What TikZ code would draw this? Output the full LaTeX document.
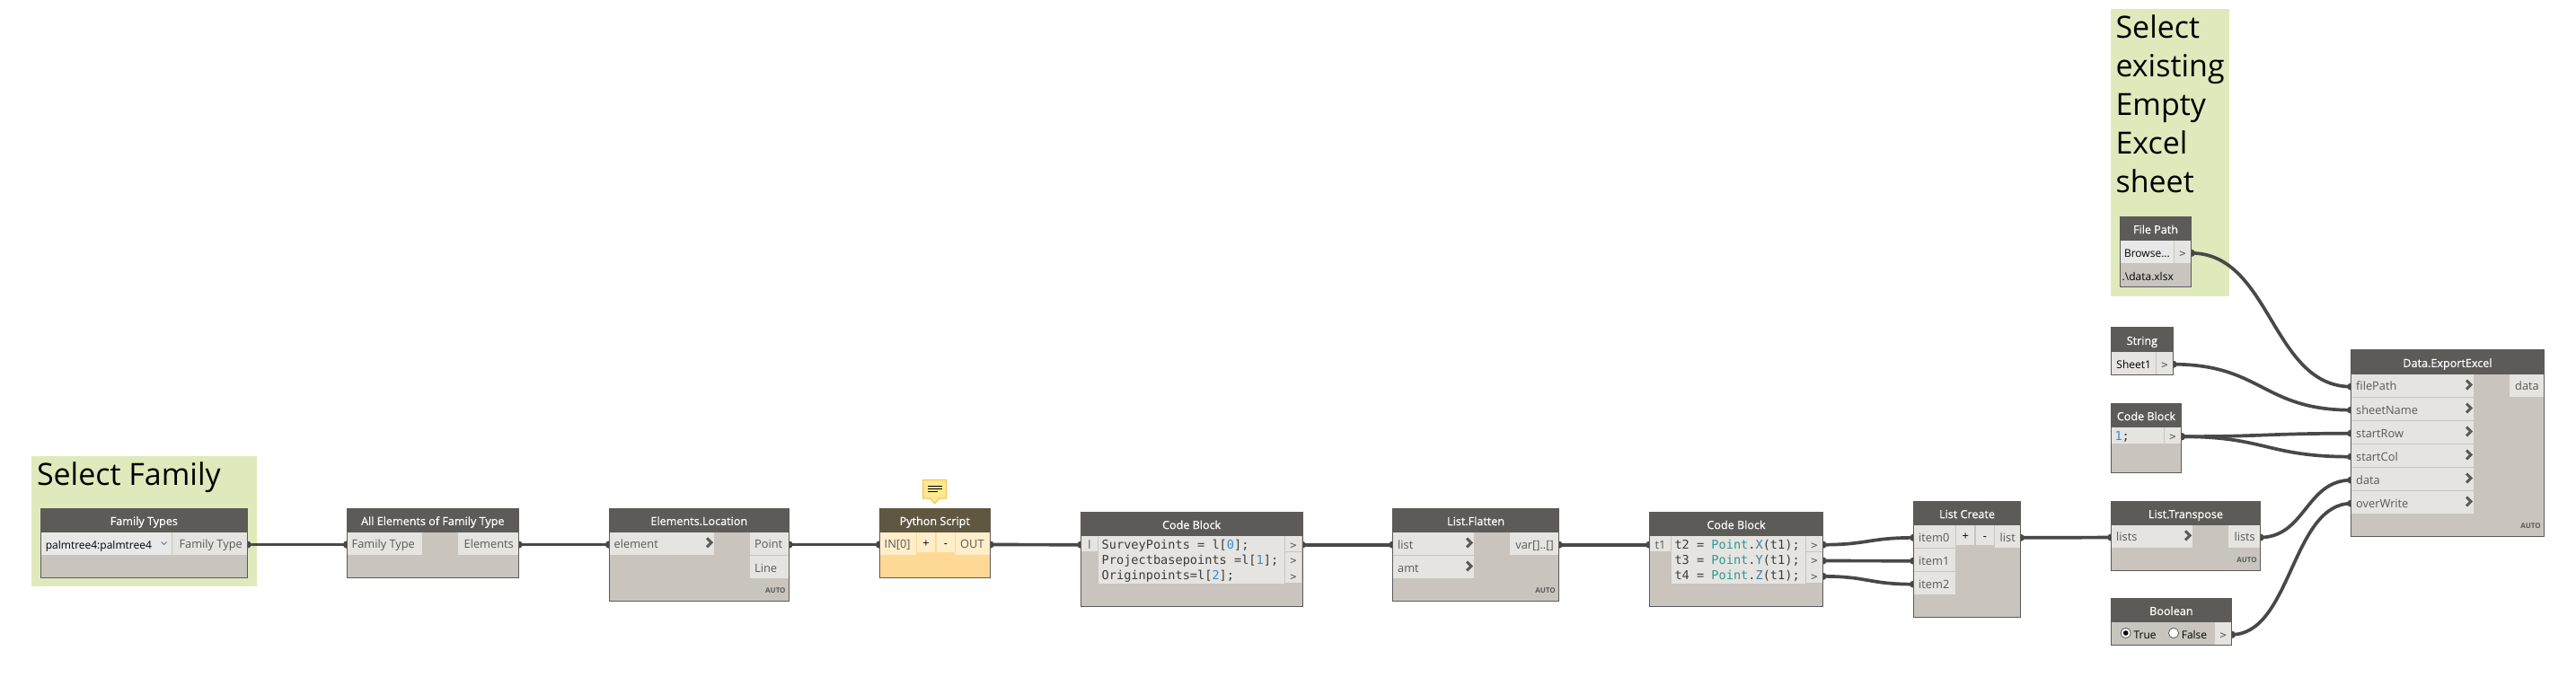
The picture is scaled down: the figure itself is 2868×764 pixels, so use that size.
\documentclass[tikz,border=0pt]{standalone}
\usepackage{fontspec}
\setmainfont{Open Sans}
\newfontfamily\hdfont[FakeBold=0.5]{Open Sans}
\setmonofont{DejaVu Sans Mono}
\usetikzlibrary{calc}
\pgfdeclarelayer{back}
\pgfdeclarelayer{wires}
\pgfsetlayers{back,wires,main}
\definecolor{grp}{HTML}{E0E9BC}
\definecolor{bodyc}{HTML}{C9C5BE}
\definecolor{headc}{HTML}{5D5B58}
\definecolor{portc}{HTML}{E5E4E0}
\definecolor{edgec}{HTML}{5A5A5A}
\definecolor{wirec}{HTML}{484848}
\definecolor{labc}{HTML}{585858}
\definecolor{pyhead}{HTML}{5F5741}
\definecolor{pybody}{HTML}{FDD995}
\definecolor{pyport}{HTML}{FFEEC9}
\definecolor{notef}{HTML}{FFE88F}
\definecolor{notee}{HTML}{F5C04F}
\definecolor{numc}{HTML}{2E8BDD}
\definecolor{clsc}{HTML}{2A9A90}
\definecolor{memc}{HTML}{3F7FA8}
\definecolor{codec}{HTML}{3C3C3C}
\def\bxal{c}
\tikzset{
  al/.store in=\bxal,
  bx/.style={rectangle,inner ysep=0pt,inner xsep=2.6pt,outer sep=0pt,text height=5.5pt,text depth=0pt,font=\fontsize{6.4}{8}\selectfont},
  dbody/.style={bx,fill=bodyc,draw=edgec,line width=.5pt},
  dhead/.style={bx,fill=headc,text=white,font=\hdfont\fontsize{6.3}{8}\selectfont},
  dport/.style={bx,fill=portc,text=labc},
  pyb/.style={dbody,fill=pybody},
  pyh/.style={dhead,fill=pyhead},
  pyp/.style={dport,fill=pyport},
  pybtn/.style={dport,fill=pyport,text=black},
  outp/.style={dport,font=\ttfamily\fontsize{6}{8}\selectfont},
  valp/.style={dport,text=black,font=\fontsize{6}{8}\selectfont},
  codebox/.style={dport},
  codeln/.style={inner sep=0pt,outer sep=0pt,anchor=base west,text=codec,font=\ttfamily\fontsize{6.8}{8}\selectfont},
  grpbox/.style={fill=grp},
  title/.style={inner sep=0pt,outer sep=0pt,text=black,font=\fontsize{17}{21.5}\selectfont},
  autotag/.style={inner sep=0pt,outer sep=0pt,anchor=east,text=labc,font=\bfseries\fontsize{4}{5}\selectfont},
  wire/.style={draw=wirec,line width=1.85pt},
  chev/.style={draw=edgec,line width=1.5pt},
}
\newcommand\bx[7][]{%
  \pgfmathsetmacro\bxw{(#5-#3)*0.5}%
  \pgfmathsetmacro\bxh{(#6-#4)*0.5}%
  \pgfmathsetmacro\bxt{max(\bxw-5.2,0.1)}%
  \node[#1,minimum width=\bxw pt,minimum height=\bxh pt] (#2) at ({(#3+#5)/2},{(#4+#6)/2}) {\makebox[\bxt pt][\bxal]{#7}};}
\newcommand\dn[8][]{% name x1 y1 x2 y2 hdrbottom title
  \bx[dbody,#1]{#2}{#3}{#4}{#5}{#6}{}%
  \bx[dhead,#1]{#2-h}{#3}{#4}{#5}{#7}{#8}}
\newcommand\chv[1]{\draw[chev] ([shift={(-8,-6)}]#1.east) -- ([shift={(-3,-1)}]#1.east) -- ([shift={(-8,4)}]#1.east);}
\newcommand\autotagat[1]{\node[autotag] (#1-auto) at ([shift={(-4,-11.3)}]#1.south east) {AUTO};}
\newcommand\wire[2]{%
  \begin{pgfonlayer}{wires}
  \fill[wirec] ([shift={(.5,1.2)}]#1.east) circle[radius=2.1pt];
  \fill[wirec] ([shift={(-.5,1.2)}]#2.west) circle[radius=2.1pt];
  \draw[wire] let \p1=([yshift=-.6pt]#1.east),\p2=([yshift=-.6pt]#2.west),\n1={(\x2-\x1)*0.5} in
     (\p1) .. controls ({\x1+\n1},\y1) and ({\x2-\n1},\y2) .. (\p2);
  \end{pgfonlayer}}
\begin{document}
\begin{tikzpicture}[x=0.5pt,y=-0.5pt]
\useasboundingbox (0,0) rectangle (2868,764);
\begin{pgfonlayer}{back}
  \fill[white] (0,0) rectangle (2868,764);
  \fill[grpbox] (35,508.3) rectangle (286,653.3);
  \fill[grpbox] (2350,10) rectangle (2482,330);
\end{pgfonlayer}
% group titles
\node[title,anchor=base west] (t1) at (41,540) {Select Family};
\node[title,anchor=north west,align=left] (t2) at (2355.5,16.5) {Select\\existing\\Empty\\Excel\\sheet};
% Family Types
\dn{ft}{45}{566}{275.6}{643.3}{592.7}{Family Types}
\bx[valp,fill=gray!18,al=l]{ftv}{45.6}{592.7}{191}{618.3}{palmtree4:palmtree4}
\bx[dport,al=r]{ftp}{191.6}{592.7}{275}{618}{Family Type}
\draw[labc,line width=.35pt] (179.5,603.5) -- (182.6,606.5) -- (185.7,603.5);
% All Elements
\dn{ae}{386}{566}{577.6}{643.3}{592.7}{All Elements of Family Type}
\bx[dport,al=l]{aei}{386.5}{592.7}{470}{618}{Family Type}
\bx[dport,al=r]{aeo}{510}{592.7}{577}{618}{Elements}
% Elements.Location
\dn{el}{678}{566}{878.6}{669.3}{592.7}{Elements.Location}
\bx[dport,al=l]{eli}{678.5}{592.7}{795}{618}{element}
\chv{eli}
\bx[dport,al=l]{elo}{835}{592.7}{878}{618}{Point}
\bx[dport,al=l]{ell}{835}{619}{878}{644}{Line}
\autotagat{el}
% Python
\dn[pyb]{py}{979}{566}{1102.5}{643.3}{592.7}{}
\bx[pyh]{py-h}{979}{566}{1102.5}{592.7}{Python Script}
\bx[pyp,al=l]{pyi}{979.5}{592.7}{1020}{618}{IN[0]}
\bx[pybtn]{pyplus}{1021}{592.7}{1041}{615}{+}
\bx[pybtn]{pyminus}{1043}{592.7}{1063}{615}{-}
\bx[pyp,al=l]{pyo}{1064}{592.7}{1102}{618}{OUT}
\draw[fill=notef,draw=notee,line width=.5pt] (1027.5,534.3) -- (1053.6,534.3) -- (1053.6,555) -- (1046,555) -- (1040.7,560.7) -- (1035.4,555) -- (1027.5,555) -- cycle;
\draw[black,line width=.4pt] (1033,541) -- (1049,541) (1033,544) -- (1049,544) (1033,547.7) -- (1044,547.7);
% Code Block 1
\dn{ca}{1203.3}{570.3}{1450}{675.3}{597}{Code Block}
\bx[dport]{cai}{1204}{597}{1222}{614}{l}
\bx[codebox]{cab}{1223}{597}{1430}{650}{}
\bx[outp]{cao1}{1431}{597}{1449}{614}{>}
\bx[outp]{cao2}{1431}{615}{1449}{631.7}{>}
\bx[outp]{cao3}{1431}{632.3}{1449}{649}{>}
\node[codeln] (cal1) at (1226.7,611) {SurveyPoints = l[\textcolor{numc}{0}];};
\node[codeln] (cal2) at (1226.7,628.3) {Projectbasepoints =l[\textcolor{numc}{1}];};
\node[codeln] (cal3) at (1226.7,645.3) {Originpoints=l[\textcolor{numc}{2}];};
% List.Flatten
\dn{lf}{1550.5}{566}{1735.7}{669.3}{593}{List.Flatten}
\bx[dport,al=l]{lfi}{1551}{593}{1641}{618}{list}
\bx[dport,al=l]{lfa}{1551}{619}{1641}{644}{amt}
\chv{lfi}\chv{lfa}
\bx[dport,al=r]{lfo}{1681}{593}{1735}{618}{var[]..[]}
\autotagat{lf}
% Code Block 2
\dn{cb}{1836.3}{570.3}{2029.7}{675.3}{597}{Code Block}
\bx[dport]{cbi}{1837}{597}{1860}{614}{t1}
\bx[codebox]{cbb}{1860.7}{597}{2010}{650}{}
\bx[outp]{cbo1}{2011}{597}{2029}{614}{>}
\bx[outp]{cbo2}{2011}{615}{2029}{631.7}{>}
\bx[outp]{cbo3}{2011}{632.3}{2029}{649}{>}
\node[codeln] (cbl1) at (1864.5,611) {t2 = \textcolor{clsc}{Point}.\textcolor{memc}{X}(t1);};
\node[codeln] (cbl2) at (1864.5,628.3) {t3 = \textcolor{clsc}{Point}.\textcolor{memc}{Y}(t1);};
\node[codeln] (cbl3) at (1864.5,645.3) {t4 = \textcolor{clsc}{Point}.\textcolor{memc}{Z}(t1);};
% List Create
\dn{lc}{2130.3}{558.3}{2249.7}{687.3}{585}{List Create}
\bx[dport,al=l]{lci0}{2131}{585}{2177}{610.3}{item0}
\bx[dport,al=l]{lci1}{2131}{611}{2177}{636}{item1}
\bx[dport,al=l]{lci2}{2131}{637}{2177}{662}{item2}
\bx[dport,text=black]{lcplus}{2178.3}{585}{2198.3}{607}{+}
\bx[dport,text=black]{lcminus}{2200}{585}{2220}{607}{-}
\bx[dport,al=r]{lco}{2221}{585}{2249}{610.3}{list}
% List.Transpose
\dn{lt}{2350.2}{558.3}{2516.7}{635}{585}{List.Transpose}
\bx[dport,al=l]{lti}{2351}{585}{2441}{609.7}{lists}
\chv{lti}
\bx[dport,al=r]{lto}{2481}{585}{2516}{609.7}{lists}
\autotagat{lt}
% File Path
\dn{fp}{2360.3}{241.3}{2439.7}{319.3}{268}{File Path}
\bx[valp,fill=gray!18]{fpb}{2360.8}{268}{2420}{293.3}{Browse...}
\bx[outp]{fpo}{2420.7}{268}{2439.2}{293.3}{>}
\node[inner sep=0pt,outer sep=0pt,anchor=base west,text=black,font=\fontsize{6}{8}\selectfont] (fpv) at (2362.7,313) {.\textbackslash data.xlsx};
% String
\dn{st}{2350.2}{365}{2419.6}{417.3}{392}{String}
\bx[valp]{stv}{2351}{392}{2400.3}{417}{Sheet1}
\bx[outp]{sto}{2401}{392}{2419}{417}{>}
% Code Block 3
\dn{cc}{2350}{449.3}{2428.8}{526}{476}{Code Block}
\bx[codebox]{ccb}{2351}{476}{2409}{494}{}
\bx[outp]{cco}{2409.6}{476}{2428.3}{494}{>}
\node[codeln] (ccl) at (2354.5,490) {\textcolor{numc}{1};};
% Boolean
\dn{bo}{2350}{666}{2484.8}{718.7}{693}{Boolean}
\bx[outp]{boo}{2466}{693}{2484.3}{718.2}{>}
\draw[fill=white,draw=edgec,line width=.4pt] (2366.7,705) circle[radius=2.8pt];
\fill[black] (2366.7,705) circle[radius=1.4pt];
\draw[fill=white,draw=edgec,line width=.4pt] (2420,705) circle[radius=2.8pt];
\node[inner sep=0pt,outer sep=0pt,anchor=base west,text=black,font=\fontsize{6}{8}\selectfont] (bot) at (2375.6,711.5) {True};
\node[inner sep=0pt,outer sep=0pt,anchor=base west,text=black,font=\fontsize{6}{8}\selectfont] (bof) at (2428.8,711.5) {False};
% Data.ExportExcel
\dn{dx}{2617.2}{390}{2832.7}{597.3}{416.7}{Data.ExportExcel}
\bx[dport,al=l]{dx1}{2618}{417}{2754}{442}{filePath}
\bx[dport,al=l]{dx2}{2618}{443}{2754}{468}{sheetName}
\bx[dport,al=l]{dx3}{2618}{469}{2754}{494}{startRow}
\bx[dport,al=l]{dx4}{2618}{495}{2754}{520}{startCol}
\bx[dport,al=l]{dx5}{2618}{521}{2754}{546}{data}
\bx[dport,al=l]{dx6}{2618}{547}{2754}{572}{overWrite}
\chv{dx1}\chv{dx2}\chv{dx3}\chv{dx4}\chv{dx5}\chv{dx6}
\bx[dport,al=r]{dxo}{2794}{417}{2832}{442}{data}
\autotagat{dx}
% connectors
\wire{ftp}{aei}
\wire{aeo}{eli}
\wire{elo}{pyi}
\wire{pyo}{cai}
\wire{cao1}{lfi}
\wire{lfo}{cbi}
\wire{cbo1}{lci0}
\wire{cbo2}{lci1}
\wire{cbo3}{lci2}
\wire{lco}{lti}
\wire{lto}{dx5}
\wire{fpo}{dx1}
\wire{sto}{dx2}
\wire{cco}{dx3}
\wire{cco}{dx4}
\wire{boo}{dx6}
\end{tikzpicture}
\end{document}
